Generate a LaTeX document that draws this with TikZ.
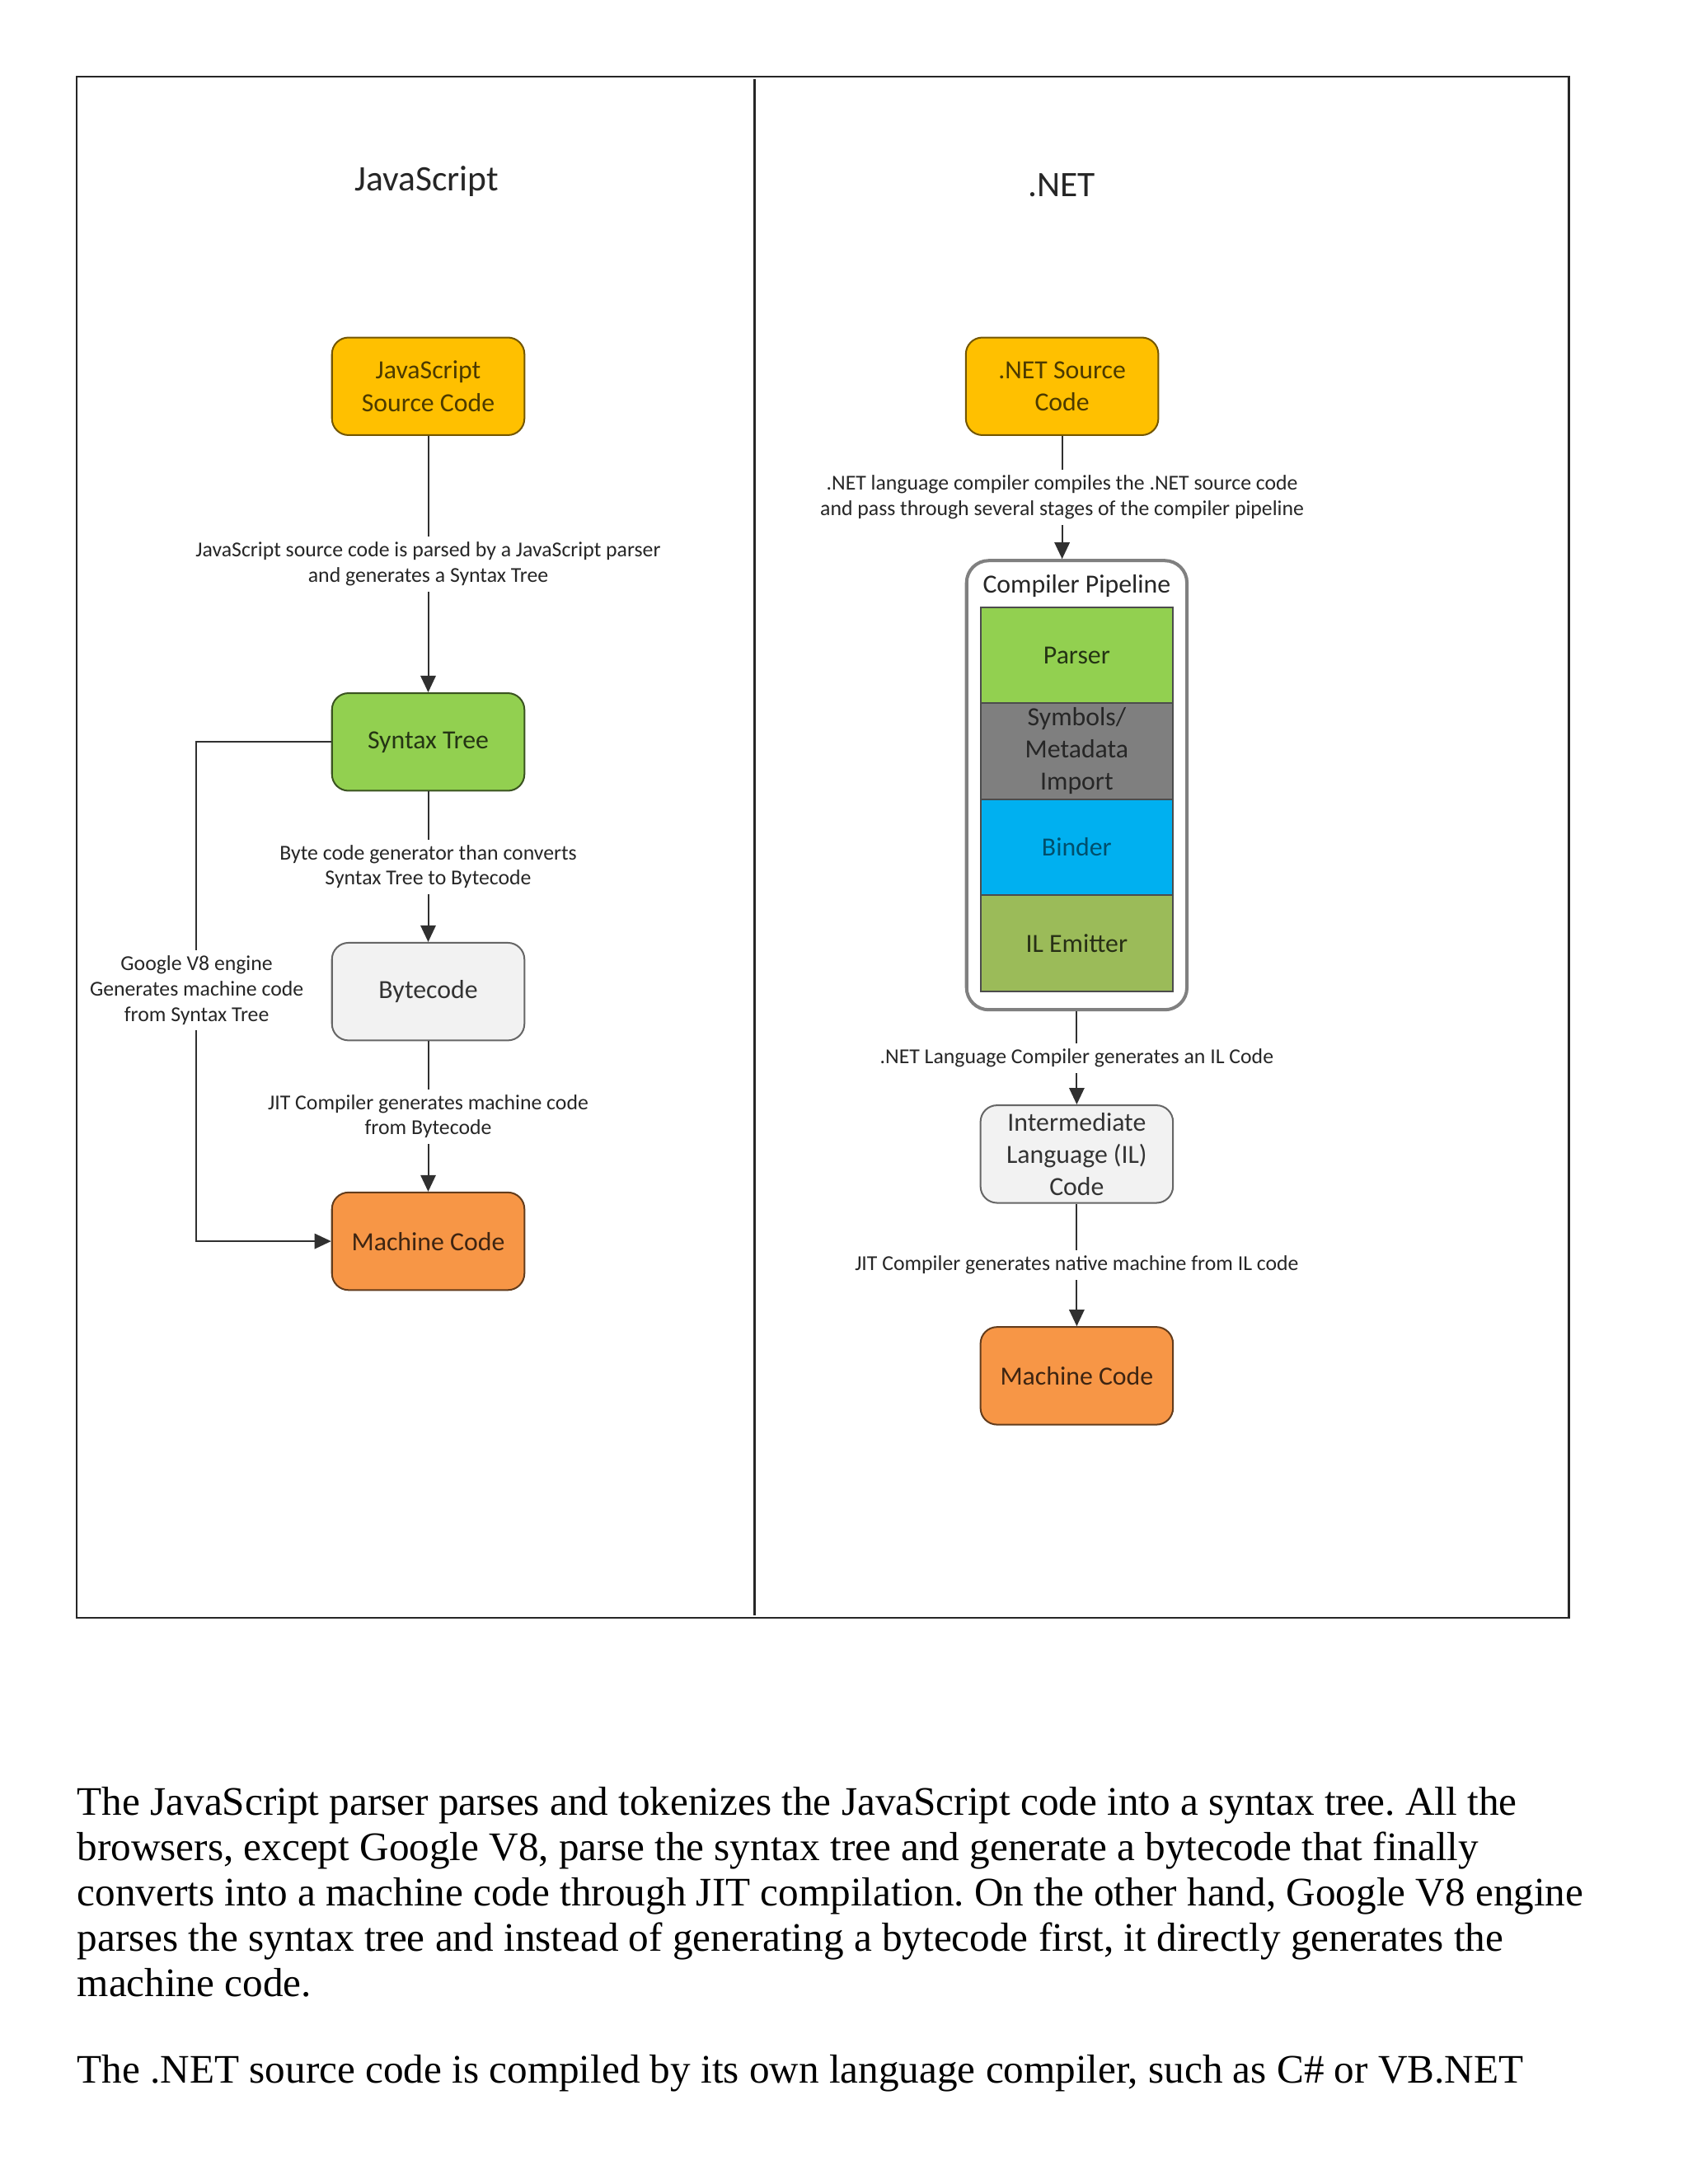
\documentclass[tikz,border=0pt]{standalone}
\usepackage{fontspec}
\setmainfont{Liberation Serif}
\newfontfamily\carl{Carlito}
\usetikzlibrary{arrows.meta}
\definecolor{cYellow}{HTML}{FFC000}
\definecolor{cGreen}{HTML}{92D050}
\definecolor{cLight}{HTML}{F2F2F2}
\definecolor{cOrange}{HTML}{F79646}
\definecolor{cGrey}{HTML}{7F7F7F}
\definecolor{cBlue}{HTML}{00B0F0}
\definecolor{cOlive}{HTML}{9BBB59}
\definecolor{cLine}{HTML}{303030}
\begin{document}
\frenchspacing
\begin{tikzpicture}[x=0.5058pt,y=-0.5058pt,
  box/.style={rounded corners=6pt, minimum width=69.8pt, minimum height=35.4pt,
    inner sep=1pt, align=center, line width=0.6pt,
    font=\carl\fontsize{9.5}{11.7}\selectfont},
  ybox/.style={box, fill=cYellow, draw=cYellow!45!black, text=cYellow!30!black},
  gbox/.style={box, fill=cGreen, draw=cGreen!40!black, text=cGreen!25!black},
  lbox/.style={box, fill=cLight, draw=black!60, text=black!80},
  obox/.style={box, fill=cOrange, draw=cOrange!40!black, text=cOrange!25!black},
  layer/.style={minimum width=69.8pt, minimum height=34.9pt, draw=black!70,
    line width=0.6pt, inner sep=0pt, align=center,
    font=\carl\fontsize{9.5}{11.7}\selectfont},
  arr/.style={draw=cLine, line width=0.6pt, -{Triangle[length=6pt,width=5.5pt]}},
  lbl/.style={fill=white, inner sep=2pt, align=center, text=black!85,
    font=\carl\fontsize{7.7}{9.2}\selectfont},
  title/.style={font=\carl\fontsize{13}{15}\selectfont, text=black!85},
  para/.style={inner sep=0pt, align=left, anchor=north west,
    font=\fontsize{14.7}{16.44}\selectfont}]
\useasboundingbox (0,0) rectangle (1210,1566);
\fill[white] (0,0) rectangle (1210,1566);

% frame
\draw[line width=0.8pt, black!85] (55,55) rectangle (1125,1160);
\draw[line width=0.8pt, black!85] (541,57) -- (541,1158);

% titles
\node[title] (tjs) at (306,130) {JavaScript};
\node[title] (tnet) at (761,133) {.NET};

% JavaScript side
\node[ybox] (jssrc) at (307,277) {JavaScript\\Source Code};
\node[gbox] (jsst) at (307,532) {Syntax Tree};
\node[lbox] (jsbc) at (307,711) {Bytecode};
\node[obox] (jsmc) at (307,890) {Machine Code};

\draw[arr] (jssrc) -- node[lbl] {JavaScript source code is parsed by a JavaScript parser\\and generates a Syntax Tree} (jsst);
\draw[arr] (jsst) -- node[lbl] {Byte code generator than converts\\Syntax Tree to Bytecode} (jsbc);
\draw[arr] (jsbc) -- node[lbl] {JIT Compiler generates machine code\\from Bytecode} (jsmc);
\draw[arr] (jsst.west) -- ++(-97,0) |- (jsmc.west);
\node[lbl] (v8) at (141,710) {Google V8 engine\\Generates machine code\\from Syntax Tree};

% .NET side
\node[ybox] (nsrc) at (761.5,277) {.NET Source\\Code};
\node[rounded corners=8pt, draw=black!50, line width=1.2pt, fill=white,
  minimum width=79.9pt, minimum height=162.9pt] (pipe) at (772,563) {};
\node[font=\carl\fontsize{9.5}{11.7}\selectfont, text=black!85] (ptitle) at (772,420) {Compiler Pipeline};
\node[layer, fill=cGreen, text=cGreen!25!black] (parser) at (772,470) {Parser};
\node[layer, fill=cGrey, text=black!85] (sym) at (772,538.5) {Symbols/\\Metadata\\Import};
\node[layer, fill=cBlue, text=cBlue!45!black] (binder) at (772,607.5) {Binder};
\node[layer, fill=cOlive, text=cOlive!25!black] (ilem) at (772,676.5) {IL Emitter};
\node[lbox] (il) at (772,827.5) {Intermediate\\Language (IL)\\Code};
\node[obox] (nmc) at (772,986.5) {Machine Code};

\draw[arr] (nsrc.south) -- node[lbl] {.NET language compiler compiles the .NET source code\\and pass through several stages of the compiler pipeline} (nsrc.south |- pipe.north);
\draw[arr] (pipe) -- node[lbl] {.NET Language Compiler generates an IL Code} (il);
\draw[arr] (il) -- node[lbl] {JIT Compiler generates native machine from IL code} (nmc);

% body text
\node[para] (p1) at (55,1281) {The JavaScript parser parses and tokenizes the JavaScript code into a syntax tree. All the\\
browsers, except Google V8, parse the syntax tree and generate a bytecode that finally\\
converts into a machine code through JIT compilation. On the other hand, Google V8 engine\\
parses the syntax tree and instead of generating a bytecode first, it directly generates the\\
machine code.};
\node[para] (p2) at (55,1473) {The .NET source code is compiled by its own language compiler, such as C\# or VB.NET};
\end{tikzpicture}
\end{document}
